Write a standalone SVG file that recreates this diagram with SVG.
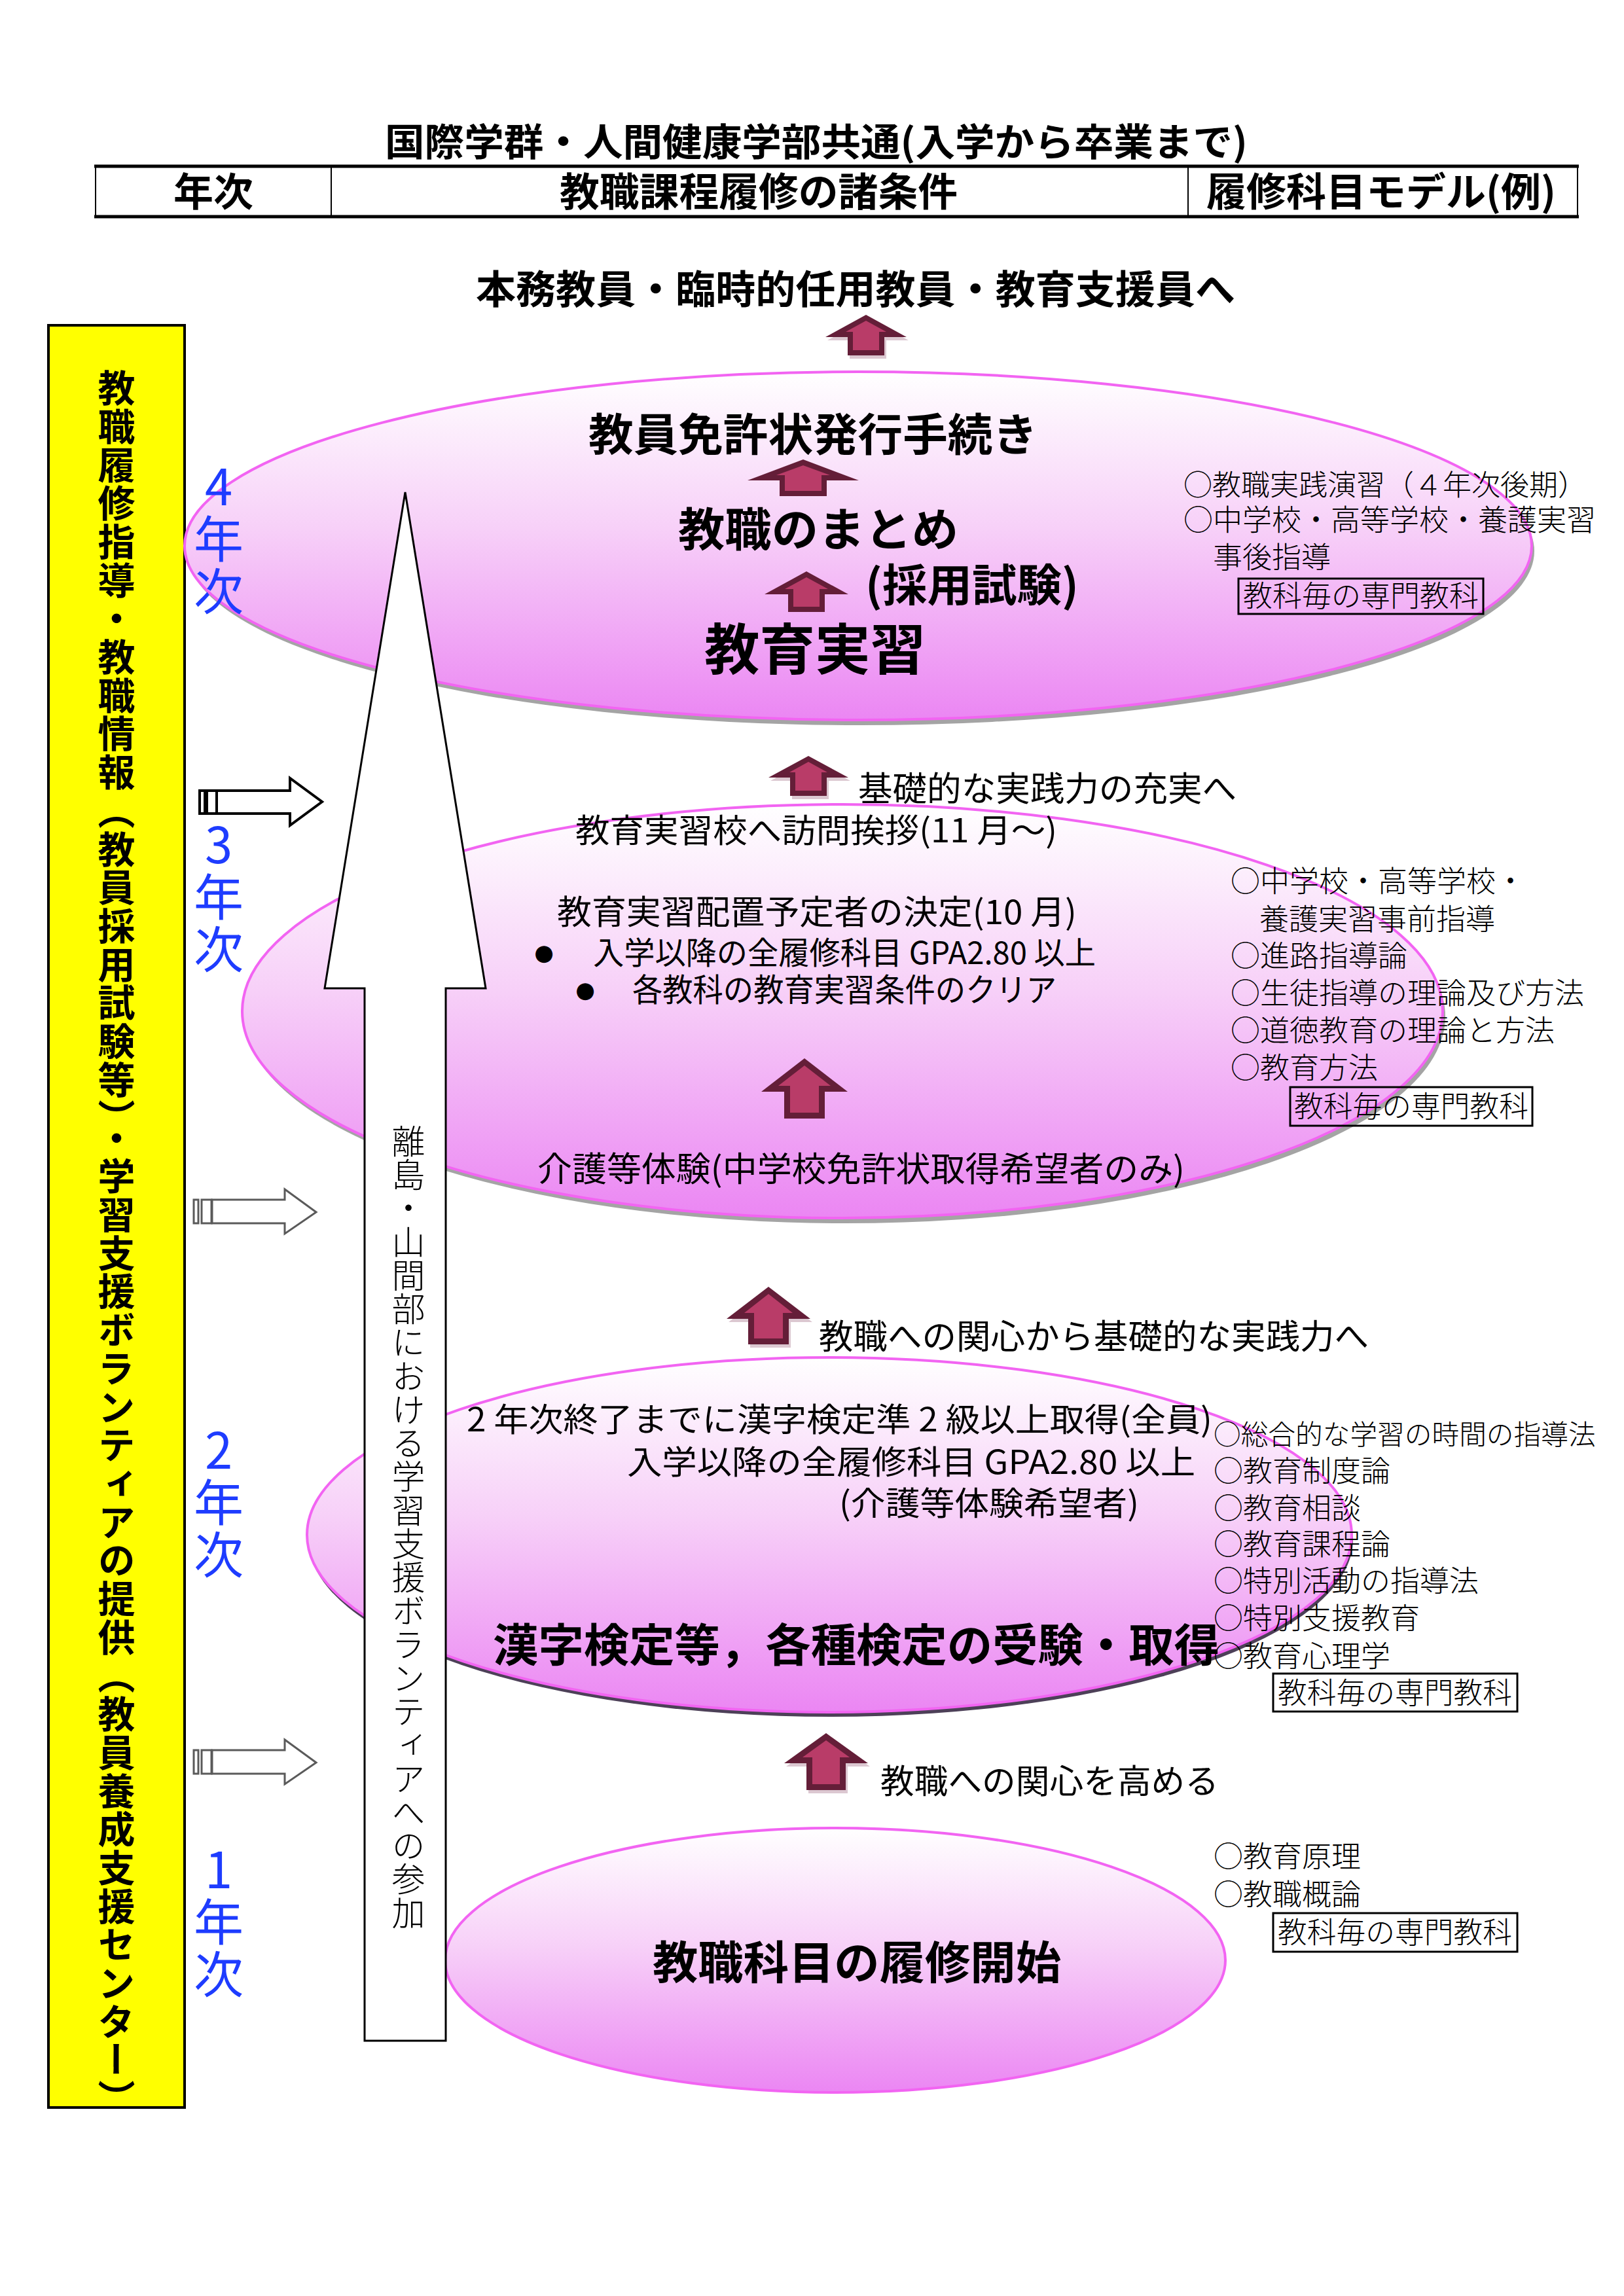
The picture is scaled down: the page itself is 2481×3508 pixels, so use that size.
<svg xmlns="http://www.w3.org/2000/svg" width="2481" height="3508" viewBox="0 0 2481 3508">
<defs>
<linearGradient id="pinkGrad" x1="0" y1="0" x2="0" y2="1">
<stop offset="0" stop-color="#ffffff"/>
<stop offset="0.45" stop-color="#f7d0f8"/>
<stop offset="1" stop-color="#eb86f3"/>
</linearGradient>
<style>
text{font-family:'Noto Sans CJK JP','Noto Sans CJK SC',sans-serif;fill:#000}
.b{font-weight:bold}
.lt{font-weight:300}
.blue{fill:#1e3cff;font-size:76px;writing-mode:vertical-rl;text-orientation:upright;letter-spacing:4px}
.ell{fill:url(#pinkGrad);stroke:#f264f2;stroke-width:4}
.sh{fill:#a4a4a4}
.sh2{fill:#4d4058}
.box{fill:none;stroke:#000;stroke-width:3}
.dk{fill:#641e38}
.li{fill:#b93c68}
.ash{fill:#cdb0bd;opacity:0.7}
.col{font-size:45px}
.vt{writing-mode:vertical-rl}
</style>
</defs>
<rect width="2481" height="3508" fill="#ffffff"/>

<g id="title">
<text x="588" y="238" font-size="58" class="b" textLength="1318" lengthAdjust="spacingAndGlyphs">国際学群・人間健康学部共通(入学から卒業まで)</text>
</g>

<g id="header-table">
<rect x="146" y="253" width="2264" height="79" fill="none" stroke="#000" stroke-width="2"/>
<line x1="144" y1="254" x2="2412" y2="254" stroke="#000" stroke-width="5"/>
<line x1="144" y1="331" x2="2412" y2="331" stroke="#000" stroke-width="5"/>
<line x1="506" y1="253" x2="506" y2="332" stroke="#000" stroke-width="2"/>
<line x1="1815" y1="253" x2="1815" y2="332" stroke="#000" stroke-width="2"/>
<text x="265" y="315" font-size="60" class="b" textLength="122" lengthAdjust="spacingAndGlyphs">年次</text>
<text x="855" y="315" font-size="60" class="b" textLength="608" lengthAdjust="spacingAndGlyphs">教職課程履修の諸条件</text>
<text x="1843" y="315" font-size="60" class="b" textLength="534" lengthAdjust="spacingAndGlyphs">履修科目モデル(例)</text>
</g>

<g id="goal">
<text x="727" y="464" font-size="60" class="b" textLength="1160" lengthAdjust="spacingAndGlyphs">本務教員・臨時的任用教員・教育支援員へ</text>
</g>

<g id="support-center">
<rect x="74" y="497" width="208" height="2723" fill="#ffff00" stroke="#000" stroke-width="4"/>
<text x="178" y="564" font-size="57" class="b vt" letter-spacing="1.7">教職履修指導・教職情報（教員採用試験等）・学習支援ボランティアの提供（教員養成支援センター）</text>
</g>

<g id="year4">
<ellipse class="sh" cx="1315" cy="842" rx="1029" ry="266"/>
<ellipse class="ell" cx="1311" cy="834" rx="1029" ry="266"/>
</g>
<g id="year3">
<ellipse class="sh" cx="1291" cy="1553" rx="917" ry="316"/>
<ellipse class="ell" cx="1287" cy="1545" rx="917" ry="316"/>
</g>
<g id="year2">
<ellipse class="sh2" cx="1269" cy="2352" rx="798" ry="271"/>
<ellipse class="ell" cx="1267" cy="2345" rx="798" ry="271"/>
</g>
<g id="year1">
<ellipse class="ell" cx="1276" cy="2995" rx="596" ry="202"/>
</g>

<g id="year-labels">
<text class="blue" x="334" y="705">4年次</text>
<text class="blue" x="334" y="1252">3年次</text>
<text class="blue" x="334" y="2177">2年次</text>
<text class="blue" x="334" y="2818">1年次</text>
</g>

<g id="volunteer-arrow">
<path d="M619,752 L742,1510 L681,1510 L681,3118 L557,3118 L557,1510 L496,1510 Z" fill="#ffffff" stroke="#000" stroke-width="3" stroke-linejoin="miter"/>
<text x="624" y="1718" font-size="51" class="lt vt" letter-spacing="0.25">離島・山間部における学習支援ボランティアへの参加</text>
</g>

<g id="connectors">
<g fill="#ffffff" stroke="#000" stroke-width="4">
<rect x="305" y="1208" width="8" height="35"/>
<rect x="316" y="1208" width="15" height="35"/>
<path d="M331,1208 L443,1208 L443,1189 L492,1225 L443,1261 L443,1243 L331,1243 Z"/>
</g>
<g fill="#ffffff" stroke="#5a5a5a" stroke-width="3">
<rect x="296" y="1833" width="7" height="36"/>
<rect x="308" y="1833" width="15" height="36"/>
<path d="M324,1833 L435,1833 L435,1817 L483,1852 L435,1885 L435,1869 L324,1869 Z"/>
<rect x="296" y="2674" width="7" height="36"/>
<rect x="308" y="2674" width="15" height="36"/>
<path d="M324,2674 L435,2674 L435,2658 L483,2693 L435,2726 L435,2710 L324,2710 Z"/>
</g>
<g id="arrow-top">
<path class="ash" transform="translate(3,5)" d="M1323,481 L1385,515 L1351,515 L1351,543 L1295,543 L1295,515 L1261,515 Z"/>
<path class="dk" d="M1323,481 L1385,515 L1351,515 L1351,543 L1295,543 L1295,515 L1261,515 Z"/>
<path class="li" d="M1323,490 L1354,507 L1343,507 L1343,535 L1303,535 L1303,507 L1292,507 Z"/>
</g>
<g id="arrow-y4a">
<path class="dk" d="M1227,702 L1312,734 L1263,734 L1263,758 L1191,758 L1191,734 L1142,734 Z"/>
<path class="li" d="M1227,711 L1268,726 L1255,726 L1255,750 L1199,750 L1199,726 L1186,726 Z"/>
</g>
<g id="arrow-y4b">
<path class="dk" d="M1232,873 L1296,908 L1260,908 L1260,935 L1204,935 L1204,908 L1168,908 Z"/>
<path class="li" d="M1232,882 L1265,900 L1252,900 L1252,927 L1212,927 L1212,900 L1199,900 Z"/>
</g>
<g id="arrow-y3top">
<path class="ash" transform="translate(3,5)" d="M1235,1155 L1296,1188 L1263,1188 L1263,1216 L1207,1216 L1207,1188 L1174,1188 Z"/>
<path class="dk" d="M1235,1155 L1296,1188 L1263,1188 L1263,1216 L1207,1216 L1207,1188 L1174,1188 Z"/>
<path class="li" d="M1235,1164 L1264,1180 L1255,1180 L1255,1208 L1215,1208 L1215,1180 L1206,1180 Z"/>
</g>
<g id="arrow-y3mid">
<path class="dk" d="M1229,1617 L1295,1668 L1260,1668 L1260,1709 L1198,1709 L1198,1668 L1163,1668 Z"/>
<path class="li" d="M1229,1628 L1269,1659 L1251,1659 L1251,1700 L1207,1700 L1207,1659 L1189,1659 Z"/>
</g>
<g id="arrow-y2top">
<path class="ash" transform="translate(3,5)" d="M1174,1966 L1238,2015 L1205,2015 L1205,2054 L1143,2054 L1143,2015 L1110,2015 Z"/>
<path class="dk" d="M1174,1966 L1238,2015 L1205,2015 L1205,2054 L1143,2054 L1143,2015 L1110,2015 Z"/>
<path class="li" d="M1174,1977 L1211,2006 L1196,2006 L1196,2045 L1152,2045 L1152,2006 L1137,2006 Z"/>
</g>
<g id="arrow-y1top">
<path class="ash" transform="translate(3,5)" d="M1262,2648 L1326,2694 L1292,2694 L1292,2735 L1232,2735 L1232,2694 L1198,2694 Z"/>
<path class="dk" d="M1262,2648 L1326,2694 L1292,2694 L1292,2735 L1232,2735 L1232,2694 L1198,2694 Z"/>
<path class="li" d="M1262,2659 L1298,2685 L1283,2685 L1283,2726 L1241,2726 L1241,2685 L1226,2685 Z"/>
</g>
</g>

<g id="year4-text">
<text x="899" y="689" font-size="68" class="b" textLength="686" lengthAdjust="spacingAndGlyphs">教員免許状発行手続き</text>
<text x="1036" y="835" font-size="70" class="b" textLength="428" lengthAdjust="spacingAndGlyphs">教職のまとめ</text>
<text x="1322" y="919" font-size="68" class="b" textLength="326" lengthAdjust="spacingAndGlyphs">(採用試験)</text>
<text x="1076" y="1023" font-size="84" class="b" textLength="338" lengthAdjust="spacingAndGlyphs">教育実習</text>
</g>
<g id="year4-courses" class="lt">
<text class="col"><tspan x="1808" y="757" font-size="44">○教職実践演習（４年次後期）</tspan><tspan x="1808" y="811">○中学校・高等学校・養護実習</tspan><tspan x="1853" y="868">事後指導</tspan></text>
<rect class="box" x="1892" y="884" width="374" height="54"/>
<text x="1899" y="927" font-size="45" textLength="360" lengthAdjust="spacingAndGlyphs">教科毎の専門教科</text>
</g>

<g id="year3-text">
<text x="1311" y="1224" font-size="52" textLength="578" lengthAdjust="spacingAndGlyphs">基礎的な実践力の充実へ</text>
<text x="879" y="1287" font-size="50" textLength="736" lengthAdjust="spacingAndGlyphs">教育実習校へ訪問挨拶(11 月～)</text>
<text x="851" y="1412" font-size="51" textLength="794" lengthAdjust="spacingAndGlyphs">教育実習配置予定者の決定(10 月)</text>
<text x="831" y="1467" font-size="34" text-anchor="middle" style="font-family:'DejaVu Sans',sans-serif">●</text>
<text x="906" y="1473" font-size="48" textLength="768" lengthAdjust="spacingAndGlyphs">入学以降の全履修科目 GPA2.80 以上</text>
<text x="894" y="1524" font-size="34" text-anchor="middle" style="font-family:'DejaVu Sans',sans-serif">●</text>
<text x="966" y="1530" font-size="49" textLength="648" lengthAdjust="spacingAndGlyphs">各教科の教育実習条件のクリア</text>
<text x="821" y="1805" font-size="52" textLength="989" lengthAdjust="spacingAndGlyphs">介護等体験(中学校免許状取得希望者のみ)</text>
</g>
<g id="year3-courses" class="lt">
<text class="col"><tspan x="1880" y="1363">○中学校・高等学校・</tspan><tspan x="1924" y="1421">養護実習事前指導</tspan><tspan x="1880" y="1477">○進路指導論</tspan><tspan x="1880" y="1534">○生徒指導の理論及び方法</tspan><tspan x="1880" y="1591">○道徳教育の理論と方法</tspan><tspan x="1880" y="1648">○教育方法</tspan></text>
<rect class="box" x="1971" y="1661" width="370" height="59"/>
<text x="1977" y="1707" font-size="45" textLength="358" lengthAdjust="spacingAndGlyphs">教科毎の専門教科</text>
</g>

<g id="year2-text">
<text x="1251" y="2061" font-size="52" textLength="840" lengthAdjust="spacingAndGlyphs">教職への関心から基礎的な実践力へ</text>
<text x="713" y="2187" font-size="50" textLength="1139" lengthAdjust="spacingAndGlyphs">2 年次終了までに漢字検定準 2 級以上取得(全員)</text>
<text x="958" y="2252" font-size="50" textLength="868" lengthAdjust="spacingAndGlyphs">入学以降の全履修科目 GPA2.80 以上</text>
<text x="1282" y="2315" font-size="50" textLength="458" lengthAdjust="spacingAndGlyphs">(介護等体験希望者)</text>
<text x="753" y="2539" font-size="69" class="b" textLength="1110" lengthAdjust="spacingAndGlyphs">漢字検定等，各種検定の受験・取得</text>
</g>
<g id="year2-courses" class="lt">
<text class="col"><tspan x="1854" y="2207" font-size="41.7">○総合的な学習の時間の指導法</tspan><tspan x="1854" y="2264">○教育制度論</tspan><tspan x="1854" y="2321">○教育相談</tspan><tspan x="1854" y="2376">○教育課程論</tspan><tspan x="1854" y="2432">○特別活動の指導法</tspan><tspan x="1854" y="2489">○特別支援教育</tspan><tspan x="1854" y="2547">○教育心理学</tspan></text>
<rect class="box" x="1945" y="2557" width="373" height="58"/>
<text x="1952" y="2603" font-size="45" textLength="358" lengthAdjust="spacingAndGlyphs">教科毎の専門教科</text>
</g>

<g id="year1-text">
<text x="1345" y="2740" font-size="51" textLength="517" lengthAdjust="spacingAndGlyphs">教職への関心を高める</text>
<text x="997" y="3024" font-size="69" class="b" textLength="624" lengthAdjust="spacingAndGlyphs">教職科目の履修開始</text>
</g>
<g id="year1-courses" class="lt">
<text class="col"><tspan x="1854" y="2853">○教育原理</tspan><tspan x="1854" y="2911">○教職概論</tspan></text>
<rect class="box" x="1945" y="2923" width="373" height="59"/>
<text x="1952" y="2969" font-size="45" textLength="358" lengthAdjust="spacingAndGlyphs">教科毎の専門教科</text>
</g>
</svg>
